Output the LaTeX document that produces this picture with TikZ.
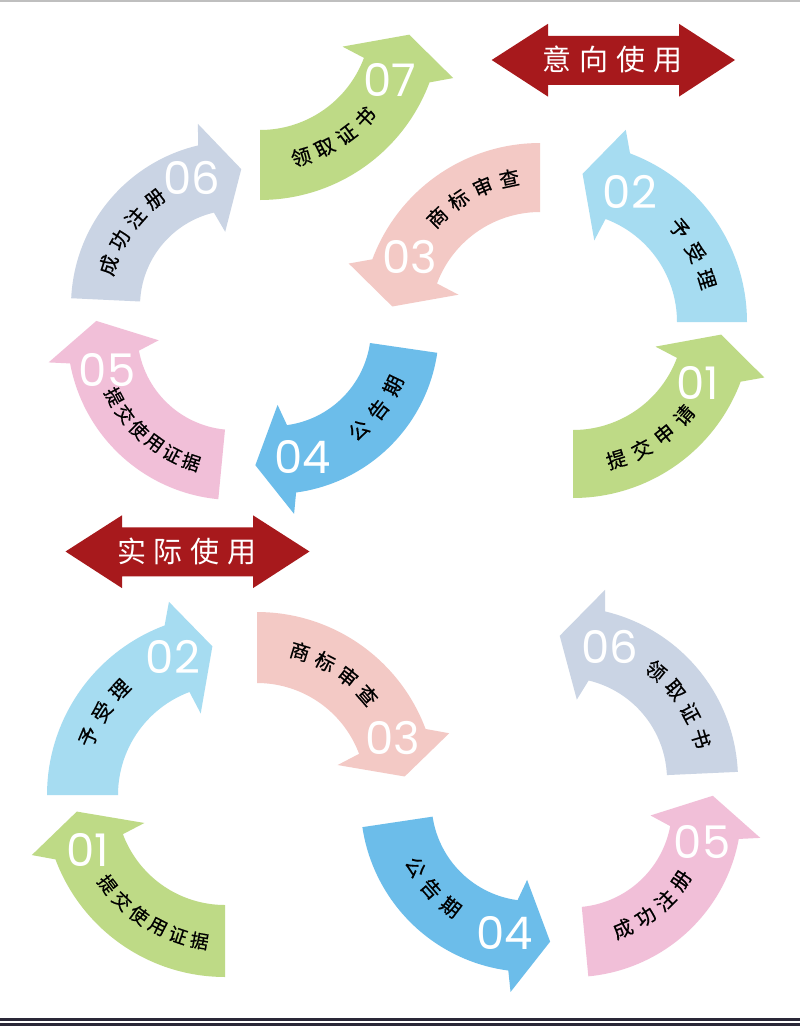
\documentclass[tikz,border=0pt]{standalone}
\usepackage{fontspec}
\newfontfamily\cjk{Noto Sans CJK SC}
\newfontfamily\cjkb[FakeBold=0.5]{Noto Sans CJK SC}
\newfontfamily\numfont{Poppins}
\definecolor{cgreen}{RGB}{190,218,134}
\definecolor{clblue}{RGB}{166,220,241}
\definecolor{csalmon}{RGB}{243,201,197}
\definecolor{cblue}{RGB}{108,189,234}
\definecolor{cpink}{RGB}{241,191,216}
\definecolor{cgray}{RGB}{202,212,228}
\definecolor{cdred}{RGB}{167,25,28}
\definecolor{cdark}{RGB}{42,40,56}
\pgfkeys{/ca/.cd,
  cx/.store in=\caCx, cy/.store in=\caCy, base/.store in=\caBase, dir/.store in=\caDir,
  rin/.store in=\caRin, rout/.store in=\caRout, notch/.store in=\caNotch,
  iba/.store in=\caIba, ibr/.store in=\caIbr, oba/.store in=\caOba, obr/.store in=\caObr,
  tipa/.store in=\caTipa, tipr/.store in=\caTipr, col/.store in=\caCol,
  f1/.style={notch=69.5, iba=71.5, ibr=24, oba=73, obr=21, tipa=84, tipr=4},
  f2/.style={notch=74, iba=79, ibr=21, oba=75.5, obr=21, tipa=89.5, tipr=6.5}}
\newcommand\mkcarrow[1]{%
  \pgfkeys{/ca/.cd,#1}%
  \pgfmathsetmacro\aN{(\caBase)+(\caDir)*(\caNotch)}%
  \pgfmathsetmacro\aIB{(\caBase)+(\caDir)*(\caIba)}%
  \pgfmathsetmacro\aOB{(\caBase)+(\caDir)*(\caOba)}%
  \pgfmathsetmacro\aT{(\caBase)+(\caDir)*(\caTipa)}%
  \pgfmathsetmacro\rIB{\caRin-\caIbr}%
  \pgfmathsetmacro\rOB{\caRout+\caObr}%
  \pgfmathsetmacro\rT{(\caRin+\caRout)/2+\caTipr}%
  \fill[\caCol] plot[domain=\caBase:\aN, samples=40] ({\caCx+\caRout*cos(\x)},{\caCy+\caRout*sin(\x)})
    -- ({\caCx+\rOB*cos(\aOB)},{\caCy+\rOB*sin(\aOB)})
    -- ({\caCx+\rT*cos(\aT)},{\caCy+\rT*sin(\aT)})
    -- ({\caCx+\rIB*cos(\aIB)},{\caCy+\rIB*sin(\aIB)})
    -- plot[domain=\aN:\caBase, samples=40] ({\caCx+\caRin*cos(\x)},{\caCy+\caRin*sin(\x)})
    -- cycle;
}
\newcommand\arclabel[9][lbl]{%
  \foreach \ch [count=\i from 0] in {#9}{%
    \pgfmathsetmacro\ph{#6+\i*(#7)}%
    \pgfmathsetmacro\rot{-\ph-(#8)*90}%
    \node[#1, rotate=\rot] (#2\i) at ({#3+#5*cos(\ph)},{#4+#5*sin(\ph)}) {\ch};
  }}
\begin{document}
\begin{tikzpicture}[x=1pt, y=-1pt,
  lbl/.style={font=\cjkb\fontsize{20}{20}\selectfont, text=black, inner sep=0pt},
  lbls/.style={font=\cjkb\fontsize{18.5}{19}\selectfont, text=black, inner sep=0pt},
  num/.style={font=\numfont\fontsize{45}{45}\selectfont, text=white, inner sep=0pt},
  big/.style={font=\cjk\fontsize{29}{30}\selectfont, text=white, inner sep=0pt}]
\useasboundingbox (0,0) rectangle (800,1026);
\fill[white] (0,0) rectangle (800,1026);
\fill[black!25] (0,0) rectangle (800,1.5);
\fill[cdark] (0,1017.5) rectangle (800,1021.2);
\fill[cdark] (0,1022.5) rectangle (800,1026);

% ---------- upper group ----------
\mkcarrow{f1, col=cgreen, cx=260, cy=19, rin=111, rout=181, base=90, dir=-1}
\mkcarrow{f2, col=cgray, cx=236, cy=306, rin=96, rout=165, base=182.7, dir=1}
\mkcarrow{f1, col=csalmon, cx=540, cy=322, rin=110, rout=179, base=270, dir=-1}
\mkcarrow{f1, col=clblue, cx=567, cy=322, rin=110, rout=180, base=0, dir=-1}
\mkcarrow{f1, col=cgreen, cx=573, cy=319, rin=111, rout=179, base=90, dir=-1}
\mkcarrow{f2, col=cblue, cx=274, cy=329, rin=97, rout=165, base=8.3, dir=1}
\mkcarrow{f2, col=cpink, cx=234.3, cy=333, rin=97, rout=167, base=95.5, dir=1}

% ---------- lower group ----------
\mkcarrow{f1, col=clblue, cx=228, cy=795, rin=110, rout=181, base=180, dir=1}
\mkcarrow{f1, col=csalmon, cx=257, cy=792, rin=109, rout=180, base=-90, dir=1}
\mkcarrow{f2, col=cgray, cx=565, cy=779.7, rin=102, rout=173, base=-2.6, dir=-1}
\mkcarrow{f2, col=cblue, cx=530.5, cy=802, rin=99, rout=170, base=171.5, dir=-1}
\mkcarrow{f2, col=cpink, cx=572.4, cy=807.8, rin=99.5, rout=169.3, base=84.6, dir=-1}
\mkcarrow{f1, col=cgreen, cx=225, cy=796, rin=109, rout=181, base=90, dir=1}

% ---------- double arrows ----------
\fill[cdred] (491.7,60) -- (548,23.8) -- (548,35.8) -- (679,35.8) -- (679,23.8) -- (735,60)
  -- (679,96.6) -- (679,84.8) -- (548,84.8) -- (548,96.6) -- cycle;
\node[big] (yixiang) at (612.5,59.5) {意\hspace{8pt}向\hspace{8pt}使\hspace{8pt}用};
\fill[cdred] (65.5,551.5) -- (122,515.3) -- (122,527.3) -- (253,527.3) -- (253,515.3) -- (309.5,551.5)
  -- (253,588.1) -- (253,576.3) -- (122,576.3) -- (122,588.1) -- cycle;
\node[big] (shiji) at (187,551) {实\hspace{8pt}际\hspace{8pt}使\hspace{8pt}用};

% ---------- labels ----------
\arclabel{ta}{260}{19}{144}{73.4}{-10.1}{-1}{领,取,证,书}
\arclabel{tc}{236}{306}{134}{197.8}{11.7}{1}{成,功,注,册}
\arclabel{td}{540}{322}{147}{225.5}{10.8}{1}{商,标,审,查}
\arclabel{te}{567}{322}{146}{-39.7}{11.3}{1}{予,受,理}
\arclabel{tf}{573}{319}{147}{72.8}{-10.6}{-1}{提,交,申,请}
\arclabel{tg}{274}{329}{132}{50}{-12.3}{-1}{公,告,期}
\arclabel[lbls]{th}{234.3}{333}{136}{152}{-8.7}{-1}{提,交,使,用,证,据}
\arclabel{tb}{228}{795}{151}{202.7}{10.75}{1}{予,受,理}
\arclabel{tj}{257}{792}{147}{-73}{10.6}{1}{商,标,审,查}
\arclabel{tk}{565}{779.7}{142}{-50.2}{11.1}{1}{领,取,证,书}
\arclabel{tl}{530.5}{802}{132}{150.4}{-11.6}{-1}{公,告,期}
\arclabel{tm}{572.4}{807.8}{131}{67.4}{-11.2}{-1}{成,功,注,册}
\arclabel[lbls]{tn}{225}{796}{147}{143}{-8.6}{-1}{提,交,使,用,证,据}

% ---------- numbers ----------
\node[num] (na) at (390,80) {07};
\node[num] (nc) at (192,178) {06};
\node[num] (nd) at (410,257) {03};
\node[num] (ne) at (630,192) {02};
\node[num] (nf) at (698,383) {01};
\node[num] (ng) at (303,457) {04};
\node[num] (nh) at (107,370) {05};
\node[num] (nb) at (173,657) {02};
\node[num] (nj) at (393,738) {03};
\node[num] (nk) at (610,647) {06};
\node[num] (nl) at (505,933) {04};
\node[num] (nm) at (702,842) {05};
\node[num] (nn) at (88,850) {01};
\end{tikzpicture}
\end{document}
